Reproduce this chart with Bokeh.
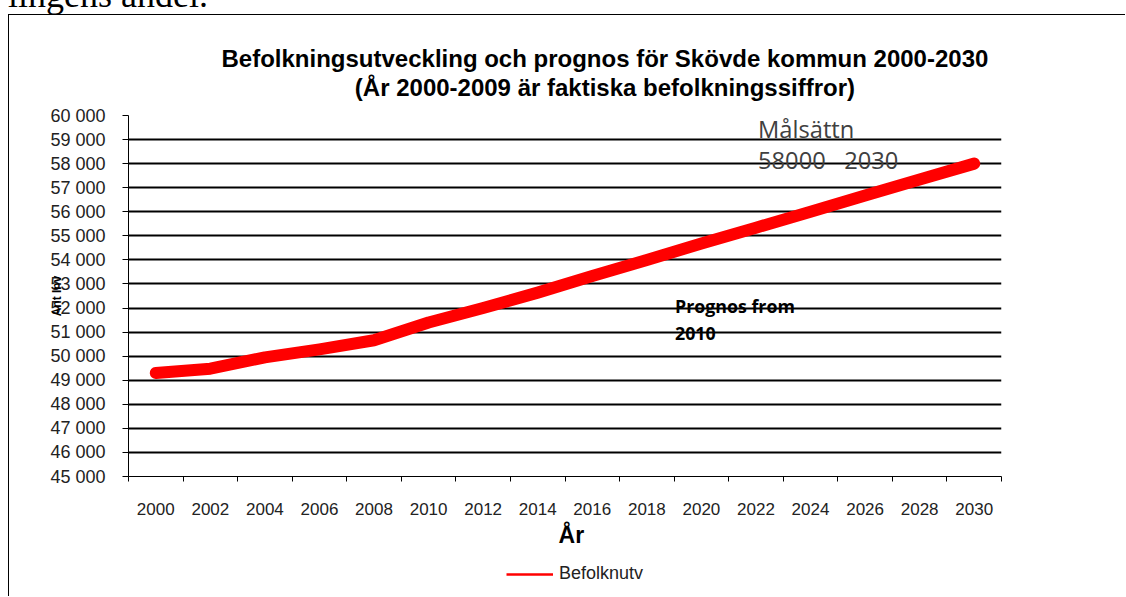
from bokeh.plotting import figure
from bokeh.layouts import column
from bokeh.models import (Range1d, FixedTicker, Label, Legend, LegendItem,
                          ColumnDataSource, Div)
from bokeh.embed import file_html
from bokeh.resources import INLINE

# ---- data -------------------------------------------------------------
years = [2000, 2002, 2004, 2006, 2008, 2010, 2012, 2014,
         2016, 2018, 2020, 2022, 2024, 2026, 2028, 2030]
befolkning = [49300, 49480, 49950, 50280, 50660, 51400, 52000, 52640,
              53330, 54000, 54680, 55340, 56000, 56680, 57340, 58000]
series_name = "Befolknutv"

y_ticks = [45000, 46000, 47000, 48000, 49000, 50000, 51000, 52000,
           53000, 54000, 55000, 56000, 57000, 58000, 59000, 60000]
y_tick_labels = ["45 000", "46 000", "47 000", "48 000", "49 000", "50 000",
                 "51 000", "52 000", "53 000", "54 000", "55 000", "56 000",
                 "57 000", "58 000", "59 000", "60 000"]
x_boundaries = [1999, 2001, 2003, 2005, 2007, 2009, 2011, 2013, 2015,
                2017, 2019, 2021, 2023, 2025, 2027, 2029, 2031]

NB = "\u00a0"
page_text = "lingens andel."
title_1 = "Befolkningsutveckling och prognos för Skövde kommun 2000-2030"
title_2 = "(År 2000-2009 är faktiska befolkningssiffror)"
x_title = "År"
y_title = "Ant Inv"
goal_1 = "Målsättn"
goal_2 = "58000" + NB * 3 + "2030"
prog_1 = "Prognos from"
prog_2 = "2010"

# ---- main figure ------------------------------------------------------
W, H1, H2 = 1116, 540, 41
p = figure(width=W, height=H1, output_backend="svg", toolbar_location=None,
           x_range=Range1d(x_boundaries[0], x_boundaries[-1]),
           y_range=Range1d(y_ticks[0], y_ticks[-1]),
           min_border_left=119, min_border_right=124,
           min_border_top=100, min_border_bottom=79,
           title=title_1 + "\n" + NB * 20 + title_2)
p.outline_line_color = None
p.background_fill_color = "white"
p.border_fill_color = "white"

# title (two centred lines)
p.title.align = "left"
p.title.offset = 93
p.title.vertical_align = "bottom"
p.title.standoff = 28
p.title.text_font = "Liberation Sans"
p.title.text_font_size = "24px"
p.title.text_font_style = "bold"
p.title.text_line_height = 1.1
p.title.text_color = "black"

# grid
p.xgrid.visible = False
p.ygrid.ticker = FixedTicker(ticks=y_ticks[1:])
p.ygrid.grid_line_color = "black"
p.ygrid.grid_line_width = 2

# y axis
ya = p.yaxis[0]
ya.ticker = FixedTicker(ticks=y_ticks)
ya.major_label_overrides = {v: s for v, s in zip(y_ticks, y_tick_labels)}
ya.major_tick_out = 6
ya.major_tick_in = 0
ya.minor_tick_out = 0
ya.minor_tick_in = 0
ya.major_label_standoff = 17
ya.major_label_text_font = "Liberation Sans"
ya.major_label_text_font_size = "18px"
ya.major_label_text_color = "#222222"
ya.axis_line_color = "black"
ya.major_tick_line_color = "black"
ya.axis_label = y_title
ya.axis_label_text_font = "Liberation Sans"
ya.axis_label_text_font_size = "12px"
ya.axis_label_text_font_style = "bold"
ya.axis_label_text_color = "black"
ya.axis_label_standoff = -17

# x axis (labels centred in categories, tick marks at category boundaries)
xa = p.xaxis[0]
xa.ticker = FixedTicker(ticks=years, minor_ticks=x_boundaries)
xa.major_tick_out = 0
xa.major_tick_in = 0
xa.minor_tick_out = 5
xa.minor_tick_in = 0
xa.minor_tick_line_color = "black"
xa.major_label_standoff = 21
xa.major_label_text_font = "Liberation Sans"
xa.major_label_text_font_size = "17px"
xa.major_label_text_color = "#222222"
xa.axis_line_color = "black"
xa.axis_label = NB * 2 + x_title
xa.axis_label_text_font = "Liberation Sans"
xa.axis_label_text_font_size = "23px"
xa.axis_label_text_font_style = "bold"
xa.axis_label_text_color = "black"
xa.axis_label_standoff = 4

# data line
src = ColumnDataSource(data=dict(x=years, y=befolkning))
p.line("x", "y", source=src, line_color="#ff0000", line_width=12,
       line_cap="round", line_join="round")

def lab(txt, x, y, size, bold=False, font="Open Sans", color="black"):
    p.add_layout(Label(x=x, y=y, x_units="canvas", y_units="canvas", text=txt,
                       text_font=font, text_font_size=size,
                       text_font_style="bold" if bold else "normal",
                       text_color=color, text_align="left",
                       text_baseline="alphabetic"))

# annotations inside the plot area
lab(goal_1, 748.5, 113.2, "23.7px", color="#404040")
lab(goal_2, 748.5, 144.5, "23.7px", color="#404040")
lab(prog_1, 665.5, 290.5, "17.8px", bold=True)
lab(prog_2, 665.5, 317.5, "17.8px", bold=True)

# ---- legend strip (frame is aligned with the main plot's frame) -------
pl = figure(width=W, height=H2, output_backend="svg", toolbar_location=None,
            x_range=Range1d(0, 1), y_range=Range1d(0, 1),
            x_axis_type=None, y_axis_type=None, min_border=0)
pl.outline_line_color = None
pl.grid.visible = False
pl.background_fill_color = "white"
pl.border_fill_color = "white"
# legend sample renderer: same data, thin line, lies outside this strip's range
proxy = pl.line("x", "y", source=src, line_color="#ff0000", line_width=2.5)
legend = Legend(items=[LegendItem(label=series_name, renderers=[proxy])],
                location=(378, 12), orientation="horizontal",
                glyph_width=47, glyph_height=20, label_height=20,
                label_standoff=6, padding=0, margin=0, spacing=0,
                border_line_color=None, background_fill_color=None,
                background_fill_alpha=0,
                label_text_font="Liberation Sans",
                label_text_font_size="18px", label_text_color="#222222")
pl.add_layout(legend)

# cropped line of surrounding document text above the chart box
doc_line = Div(text='<span style="position:relative; top:-23px">' + page_text + '</span>',
               width=400, height=14, margin=(0, 0, 0, 8),
               styles={"font-family": "Liberation Serif",
                       "font-size": "36px", "line-height": "36px",
                       "white-space": "nowrap", "color": "black"})

chart = column(p, pl, spacing=0,
               styles={"margin-left": "8px",
                       "border-left": "1.5px solid black",
                       "border-top": "1.5px solid black"})
layout = column(doc_line, chart, spacing=0)

open("out.html", "w").write(file_html(layout, INLINE))
